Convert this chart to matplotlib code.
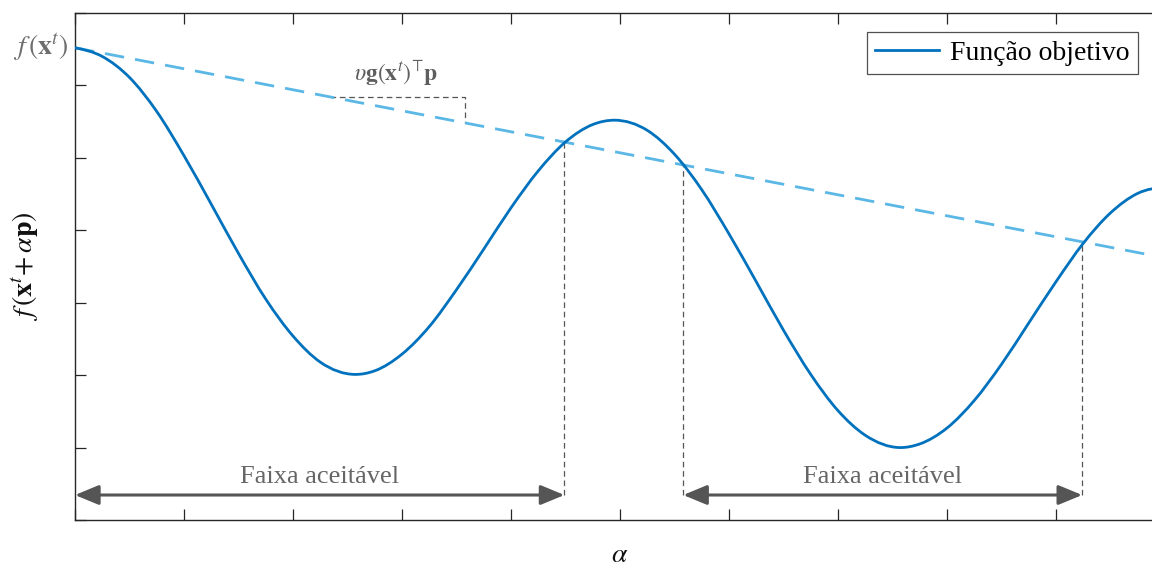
import matplotlib
matplotlib.use('Agg')
import matplotlib.pyplot as plt
from matplotlib.patches import ArrowStyle, PathPatch
from matplotlib.path import Path
from matplotlib.lines import Line2D

# ---- data ----
alpha = [0.0, 0.25, 0.5, 0.75, 1.0, 1.25, 1.5, 1.75, 2.0, 2.25, 2.57,
         2.75, 3.0, 3.25, 3.5, 3.75, 4.0, 4.25, 4.5, 4.75, 4.95,
         5.25, 5.5, 5.75, 6.0, 6.25, 6.5, 6.75, 7.0, 7.25, 7.57,
         7.75, 8.0, 8.25, 8.5, 8.75, 9.0, 9.25, 9.5, 9.75, 10.0]
f_vals = [6.52, 6.40, 6.11, 5.64, 5.03, 4.36, 3.68, 3.05, 2.54, 2.18, 2.01,
          2.06, 2.29, 2.67, 3.18, 3.74, 4.31, 4.82, 5.22, 5.46, 5.52,
          5.38, 5.05, 4.56, 3.95, 3.29, 2.62, 2.01, 1.51, 1.17, 1.00,
          1.05, 1.27, 1.65, 2.15, 2.72, 3.29, 3.82, 4.24, 4.51, 4.60]

tangent_alpha = [0.0, 10.0]
tangent_vals = [6.52, 3.62]

range_starts = [0.0, 5.58]
range_ends = [4.49, 9.24]
range_label = "Faixa aceitável"

cross_alpha = [4.49, 5.58, 9.24]
cross_vals = [5.22, 4.90, 3.84]

slope_alpha = [2.34, 3.58, 3.58]
slope_vals = [5.841, 5.841, 5.482]

legend_label = "Função objetivo"

# ---- style ----
plt.rcParams['font.family'] = ['Liberation Serif', 'DejaVu Serif']
plt.rcParams['mathtext.fontset'] = 'stix'

W, H = 1152, 566
fig = plt.figure(figsize=(W / 100, H / 100), dpi=100)
ax = fig.add_axes([75 / W, 46 / H, 1090 / W, 507 / H])

curve_c = '#0072BD'
tan_c = '#5AB7E6'
gray = '#555555'
txt_gray = '#666666'

ax.plot(tangent_alpha, tangent_vals, color=tan_c, lw=2.0, dashes=(7, 4), zorder=2)


def smooth_path(xs, ys):
    """Cubic Hermite (Bezier) path passing through every read point."""
    n = len(xs)
    h = [xs[i + 1] - xs[i] for i in range(n - 1)]
    d = [(ys[i + 1] - ys[i]) / h[i] for i in range(n - 1)]
    m = [0.0] * n
    for i in range(1, n - 1):
        m[i] = (d[i - 1] * h[i] + d[i] * h[i - 1]) / (h[i - 1] + h[i])
    m[0] = 1.5 * d[0] - 0.5 * m[1]
    m[-1] = 1.5 * d[-1] - 0.5 * m[-2]
    verts = [(xs[0], ys[0])]
    codes = [Path.MOVETO]
    for i in range(n - 1):
        verts += [(xs[i] + h[i] / 3, ys[i] + m[i] * h[i] / 3),
                  (xs[i + 1] - h[i] / 3, ys[i + 1] - m[i + 1] * h[i] / 3),
                  (xs[i + 1], ys[i + 1])]
        codes += [Path.CURVE4] * 3
    return Path(verts, codes)


ax.add_patch(PathPatch(smooth_path(alpha, f_vals), facecolor='none',
                       edgecolor=curve_c, lw=2.0, zorder=3, capstyle='round'))

arrow_y = 0.345
for xc, yc in zip(cross_alpha, cross_vals):
    ax.plot([xc, xc], [arrow_y, yc], color=gray, lw=0.9, dashes=(4.5, 3), zorder=1)

ax.plot(slope_alpha, slope_vals, color=gray, lw=0.9, dashes=(4.5, 3), zorder=1)

astyle = ArrowStyle('<|-|>', head_length=1.45, head_width=0.6)
for a0, a1 in zip(range_starts, range_ends):
    ax.annotate('', xy=(a1, arrow_y), xytext=(a0, arrow_y),
                arrowprops=dict(arrowstyle=astyle, color=gray, lw=2.2,
                                shrinkA=0, shrinkB=0, mutation_scale=10),
                annotation_clip=False)
    ax.text((a0 + a1) / 2, 0.6, range_label, ha='center', va='center',
            fontsize=19, color=txt_gray)

ax.text(2.94, 6.18, r'$\upsilon\mathbf{g}(\mathbf{x}^{t})^{\!\top}\!\mathbf{p}$',
        ha='center', va='center', fontsize=17, color='#5e5e5e')

ax.text(-0.06, 6.52, r'$f\,(\mathbf{x}^{t})$', ha='right', va='center',
        fontsize=20, color='#6e6e6e', clip_on=False)

fig.text(26 / W, 1 - 266 / H, r'$f\,(\mathbf{x}^{t}\!+\alpha\mathbf{p})$',
         rotation=90, ha='center', va='center', fontsize=20, color='#111111')
fig.text(620 / W, 1 - 555 / H, r'$\alpha$', ha='center', va='center',
         fontsize=20, color='#111111')

ax.set_xlim(0, 10)
ax.set_ylim(0, 7)
ax.set_xticks(range(0, 11))
ax.set_yticks(range(0, 8))
ax.tick_params(direction='in', length=8, width=0.9, color='#262626',
               top=True, right=True, labelbottom=False, labelleft=False)
for s in ax.spines.values():
    s.set_color('#262626')
    s.set_linewidth(1.0)

handle = Line2D([], [], color=curve_c, lw=2.0)
leg = ax.legend([handle], [legend_label], loc='upper right',
                bbox_to_anchor=(1138 / W, 1 - 32 / H),
                bbox_transform=fig.transFigure, borderaxespad=0,
                fontsize=20, handlelength=2.3, frameon=True, fancybox=False,
                borderpad=0.3, handletextpad=0.4)
leg.get_frame().set_edgecolor('#262626')
leg.get_frame().set_linewidth(0.9)

fig.savefig('out.png', dpi=100)
